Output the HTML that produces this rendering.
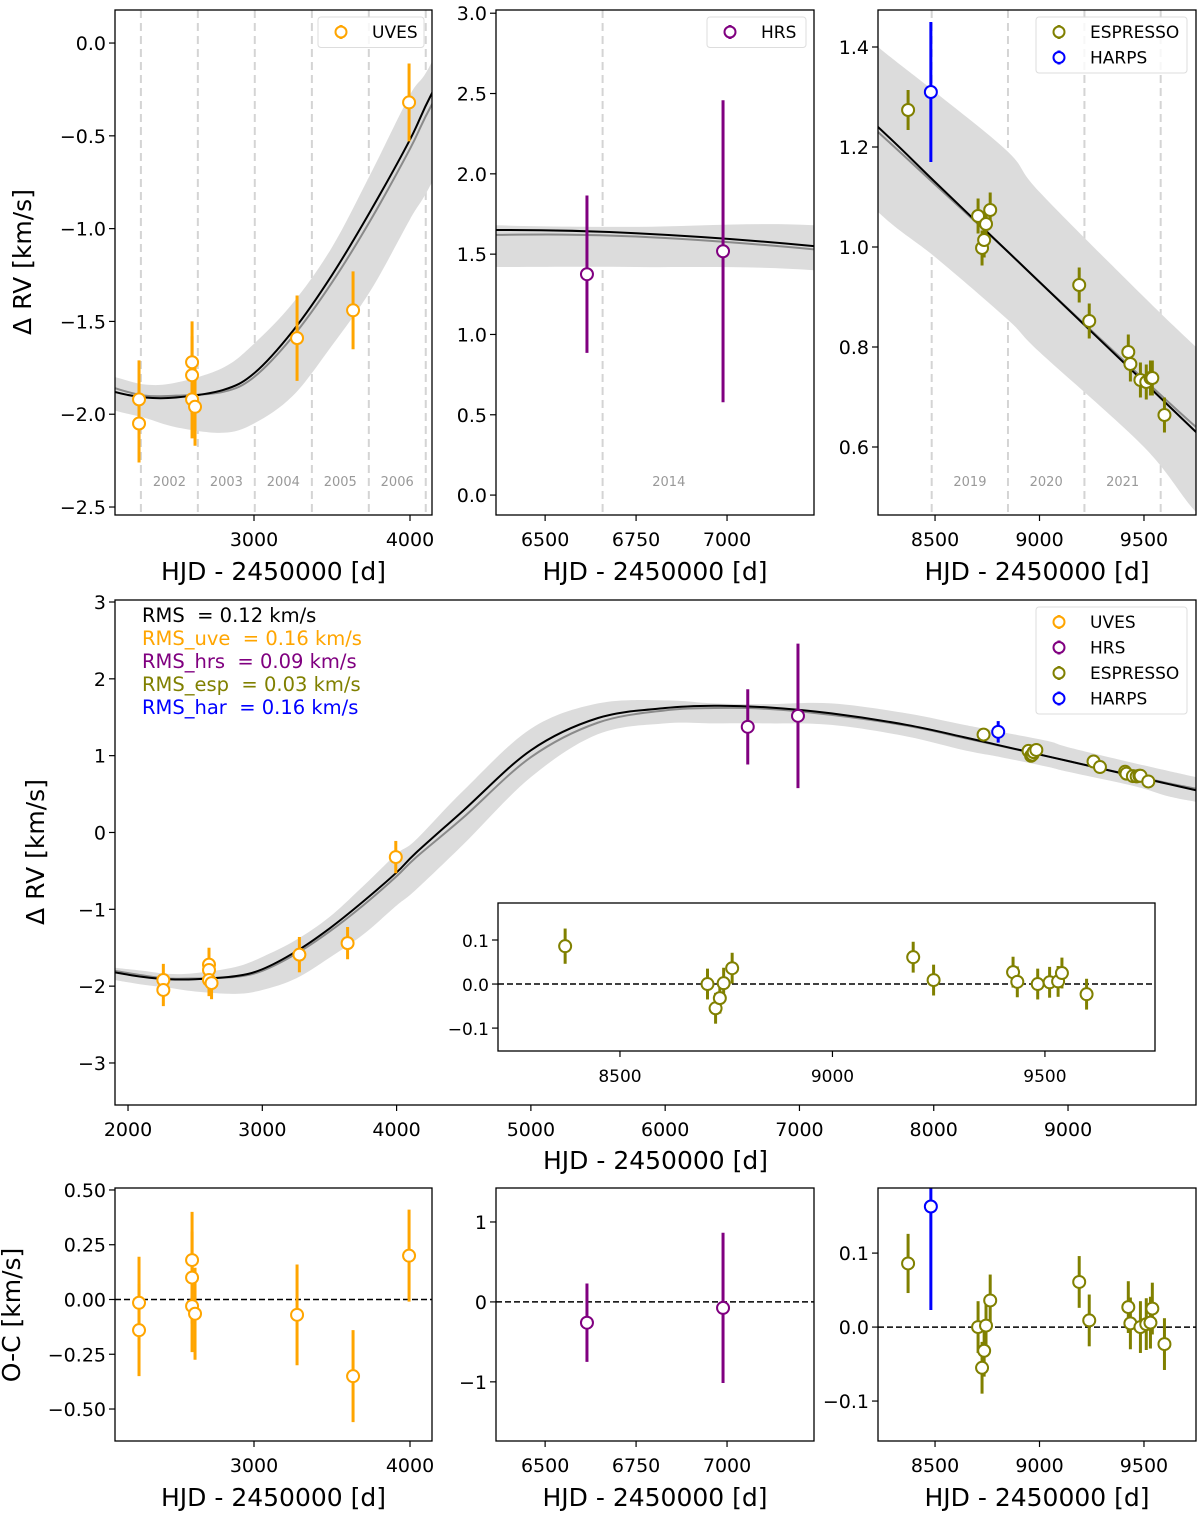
<!DOCTYPE html>
<html><head><meta charset="utf-8"><style>
html,body{margin:0;background:#fff;overflow:hidden;width:1200px;height:1517px}
svg{display:block;font-family:"DejaVu Sans","Liberation Sans",sans-serif}
</style></head><body>
<svg id="fig" width="1200" height="1517" viewBox="0 0 1200 1517" xmlns="http://www.w3.org/2000/svg"></svg>
<script>
// ---- data ----
const uvesT = [2263, 2263, 2603, 2603, 2603, 2622, 3276, 3635, 3994];
const uvesRV = [-1.92, -2.05, -1.72, -1.79, -1.92, -1.96, -1.59, -1.44, -0.32];
const uvesErr = [0.21, 0.21, 0.22, 0.21, 0.21, 0.21, 0.23, 0.21, 0.21];
const uvesOC = [-0.015, -0.14, 0.18, 0.10, -0.03, -0.065, -0.07, -0.35, 0.20];
const hrsT = [6615, 6989];
const hrsRV = [1.375, 1.518];
const hrsErr = [0.49, 0.94];
const hrsOC = [-0.26, -0.075];
const espT = [8371, 8706, 8725, 8735, 8744, 8764, 9190, 9238, 9425, 9435, 9483, 9511, 9531, 9540, 9598];
const espRV = [1.274, 1.062, 0.998, 1.014, 1.046, 1.074, 0.924, 0.852, 0.79, 0.766, 0.734, 0.73, 0.738, 0.738, 0.664];
const espErr = [0.04, 0.035, 0.035, 0.035, 0.035, 0.035, 0.035, 0.035, 0.035, 0.035, 0.035, 0.035, 0.035, 0.035, 0.035];
const espOC = [0.086, 0.0, -0.055, -0.032, 0.002, 0.036, 0.061, 0.009, 0.027, 0.005, 0.0, 0.004, 0.006, 0.025, -0.023];
const harT = [8480];
const harRV = [1.31];
const harErr = [0.14];
const harOC = [0.163];
const modelT = [1900, 2109, 2300, 2500, 2800, 3000, 3250, 3500, 3750, 4000, 4141, 4500, 5000, 5500, 6000, 6365, 6750, 7239, 7800, 8227, 8500, 8850, 9000, 9500, 9749, 9953];
const modelBlack = [-1.82, -1.88, -1.91, -1.91, -1.87, -1.78, -1.55, -1.25, -0.90, -0.52, -0.27, 0.29, 1.07, 1.49, 1.62, 1.65, 1.63, 1.55, 1.40, 1.24, 1.13, 0.99, 0.93, 0.73, 0.63, 0.55];
const modelGray = [-1.80, -1.86, -1.90, -1.90, -1.88, -1.80, -1.58, -1.29, -0.95, -0.57, -0.33, 0.20, 0.98, 1.43, 1.59, 1.62, 1.61, 1.53, 1.39, 1.23, 1.125, 0.99, 0.93, 0.735, 0.64, 0.57];
const bandLow = [-1.92, -1.98, -2.02, -2.07, -2.10, -2.05, -1.90, -1.63, -1.33, -0.95, -0.75, -0.15, 0.72, 1.28, 1.42, 1.42, 1.42, 1.40, 1.25, 1.07, 0.98, 0.854, 0.79, 0.60, 0.47, 0.40];
const bandHigh = [-1.76, -1.80, -1.84, -1.83, -1.75, -1.62, -1.40, -1.10, -0.70, -0.28, -0.10, 0.55, 1.35, 1.68, 1.72, 1.68, 1.67, 1.68, 1.55, 1.40, 1.31, 1.19, 1.11, 0.90, 0.80, 0.72];
const yearEdges = [2275, 2640, 3005, 3371, 3736, 4101, 6658, 8484, 8849, 9215, 9580];
const yearLabels = ['2002','2003','2004','2005','2006','2014','2019','2020','2021'];
const yearLabelT = [2458, 2823, 3188, 3553, 3918, 6840, 8667, 9032, 9398];
const rmsLabels = ['RMS  = 0.12 km/s','RMS_uve  = 0.16 km/s','RMS_hrs  = 0.09 km/s','RMS_esp  = 0.03 km/s','RMS_har  = 0.16 km/s'];

const COL = {uves:'#FFA500', hrs:'#800080', esp:'#808000', har:'#0000FF'};
const NS = 'http://www.w3.org/2000/svg';
const svg = document.getElementById('fig');
let clipId = 0;
function mk(tag, attrs, parent){
  const e = document.createElementNS(NS, tag);
  for (const k in attrs) e.setAttribute(k, attrs[k]);
  (parent || svg).appendChild(e);
  return e;
}
function fmt(v, d){ const s = v.toFixed(d); return s.replace('-', '\u2212'); }
function smooth(pts, start){
  let d = (start ? 'M' : 'L') + pts[0][0] + ' ' + pts[0][1];
  for (let i = 0; i < pts.length - 1; i++){
    const p0 = pts[Math.max(i-1,0)], p1 = pts[i], p2 = pts[i+1], p3 = pts[Math.min(i+2,pts.length-1)];
    const c1x = p1[0] + (p2[0]-p0[0])/6, c1y = p1[1] + (p2[1]-p0[1])/6;
    const c2x = p2[0] - (p3[0]-p1[0])/6, c2y = p2[1] - (p3[1]-p1[1])/6;
    d += 'C' + c1x + ' ' + c1y + ' ' + c2x + ' ' + c2y + ' ' + p2[0] + ' ' + p2[1];
  }
  return d;
}

function panel(o){
  const g = mk('g', {});
  
  
  const sx = v => o.x0 + (v - o.xd[0]) / (o.xd[1] - o.xd[0]) * (o.x1 - o.x0);
  const sy = v => o.y1 - (v - o.yd[0]) / (o.yd[1] - o.yd[0]) * (o.y1 - o.y0);
  const cid = 'c' + (clipId++);
  const cp = mk('clipPath', {id: cid}, g);
  mk('rect', {x:o.x0, y:o.y0, width:o.x1-o.x0, height:o.y1-o.y0}, cp);
  const inner = mk('g', {'clip-path':'url(#'+cid+')'}, g);
  return {g, inner, sx, sy, o};
}
function frame(P, xt, xdec, yt, ydec, fs){
  const o = P.o, g = P.g;
  const r = mk('rect', {x:o.x0, y:o.y0, width:o.x1-o.x0, height:o.y1-o.y0, fill:'none', stroke:'#000', 'stroke-width':1.3}, g);
  
  
  xt.forEach(v => {
    const x = P.sx(v);
    mk('line', {x1:x, x2:x, y1:o.y1, y2:o.y1+6, stroke:'#000', 'stroke-width':1.2}, g);
    const t = mk('text', {x:x, y:o.y1+31, 'text-anchor':'middle', 'font-size':fs||19}, g);
    t.textContent = fmt(v, xdec);
    
    
  });
  yt.forEach(v => {
    const y = P.sy(v);
    mk('line', {x1:o.x0-6, x2:o.x0, y1:y, y2:y, stroke:'#000', 'stroke-width':1.2}, g);
    const t = mk('text', {x:o.x0-9, y:y+7, 'text-anchor':'end', 'font-size':fs||19}, g);
    t.textContent = fmt(v, ydec);
    
    
  });
}
function xlabel(P, y){
  const t = mk('text', {x:(P.o.x0+P.o.x1)/2, y:y, 'text-anchor':'middle', 'font-size':25}, P.g);
  t.textContent = 'HJD - 2450000 [d]';
  
  
}
function ylabel(P, x, y, txt){
  const t = mk('text', {x:x, y:y, 'text-anchor':'middle', 'font-size':25, transform:'rotate(-90 '+x+' '+y+')'}, P.g);
  t.textContent = txt;
  
  
}
function model(P){
  const up = modelT.map((t,i) => [P.sx(t), P.sy(bandHigh[i])]);
  const lo = modelT.map((t,i) => [P.sx(t), P.sy(bandLow[i])]).reverse();
  const b = mk('path', {d:smooth(up,true) + smooth(lo,false) + 'Z', fill:'#dcdcdc', stroke:'none'}, P.inner);
  
  
  [[modelGray, '#8a8a8a', 'model-gray-curve'], [modelBlack, '#000', 'model-best-fit-curve']].forEach(s => {
    const pts = modelT.map((t,i) => [P.sx(t), P.sy(s[0][i])]);
    const l = mk('path', {d:smooth(pts,true), fill:'none', stroke:s[1], 'stroke-width':2, 'stroke-linejoin':'round'}, P.inner);
    
    
  });
}
function years(P, edges, labels, lt){
  edges.forEach(t => {
    const x = P.sx(t);
    const l = mk('line', {x1:x, x2:x, y1:P.o.y0, y2:P.o.y1, stroke:'#d4d4d4', 'stroke-width':2, 'stroke-dasharray':'8 5'}, P.inner);
    
    
  });
  labels.forEach((s,i) => {
    const t = mk('text', {x:P.sx(lt[i]), y:486, 'text-anchor':'middle', 'font-size':13, fill:'#999'}, P.inner);
    t.textContent = s;
    
    
  });
}
function zero(P){
  const y = P.sy(0);
  const l = mk('line', {x1:P.o.x0, x2:P.o.x1, y1:y, y2:y, stroke:'#000', 'stroke-width':1.5, 'stroke-dasharray':'6 3'}, P.inner);
  
  
}
function points(P, T, V, E, color, name, r){
  T.forEach((t,i) => {
    const x = P.sx(t);
    const l = mk('line', {x1:x, x2:x, y1:P.sy(V[i]-E[i]), y2:P.sy(V[i]+E[i]), stroke:color, 'stroke-width':3}, P.inner);
    
    
  });
  T.forEach((t,i) => {
    const c = mk('circle', {cx:P.sx(t), cy:P.sy(V[i]), r:r||6, fill:'#fff', stroke:color, 'stroke-width':2}, P.inner);
    
    
  });
}
function legend(P, x, y, w, entries){
  const h = 25.5*entries.length + 5;
  const r = mk('rect', {x:x, y:y, width:w, height:h, fill:'#fff', 'fill-opacity':0.8, stroke:'#ddd', 'stroke-width':1, rx:3}, P.g);
  
  
  entries.forEach((e,i) => {
    const cy = y + 15 + 25.5*i;
    const mx = x + 23;
    mk('line', {x1:mx, x2:mx, y1:cy-7, y2:cy+7, stroke:e[1], 'stroke-width':3}, P.g);
    const c = mk('circle', {cx:mx, cy:cy, r:5.5, fill:'#fff', stroke:e[1], 'stroke-width':2}, P.g);
    
    
    const t = mk('text', {x:x+54, y:cy+6, 'font-size':17}, P.g);
    t.textContent = e[0];
    
    
  });
}

// ---- top left (UVES) ----
let P = panel({name:'uves-rv-panel', x0:115, x1:432, y0:10, y1:515, xd:[2109,4141], yd:[-2.543,0.178]});
years(P, yearEdges.slice(0,6), yearLabels.slice(0,5), yearLabelT.slice(0,5));
model(P);
points(P, uvesT, uvesRV, uvesErr, COL.uves, 'uves');
frame(P, [3000,4000], 0, [0,-0.5,-1,-1.5,-2,-2.5], 1);
xlabel(P, 580); ylabel(P, 31, 262, 'Δ RV [km/s]');
legend(P, 318, 17, 106, [['UVES', COL.uves]]);

// ---- top middle (HRS) ----
P = panel({name:'hrs-rv-panel', x0:496, x1:814, y0:10, y1:515, xd:[6365,7239], yd:[-0.124,3.02]});
years(P, yearEdges.slice(6,7), yearLabels.slice(5,6), yearLabelT.slice(5,6));
model(P);
points(P, hrsT, hrsRV, hrsErr, COL.hrs, 'hrs');
frame(P, [6500,6750,7000], 0, [0,0.5,1,1.5,2,2.5,3], 1);
xlabel(P, 580);
legend(P, 707, 17, 99, [['HRS', COL.hrs]]);

// ---- top right (ESPRESSO/HARPS) ----
P = panel({name:'espresso-rv-panel', x0:878, x1:1196, y0:10, y1:515, xd:[8227,9749], yd:[0.464,1.474]});
years(P, yearEdges.slice(7,11), yearLabels.slice(6,9), yearLabelT.slice(6,9));
model(P);
points(P, espT, espRV, espErr, COL.esp, 'espresso');
points(P, harT, harRV, harErr, COL.har, 'harps');
frame(P, [8500,9000,9500], 0, [0.6,0.8,1.0,1.2,1.4], 1);
xlabel(P, 580);
legend(P, 1036, 17, 151, [['ESPRESSO', COL.esp], ['HARPS', COL.har]]);

// ---- main panel ----
P = panel({name:'combined-rv-panel', x0:115, x1:1196, y0:600, y1:1105, xd:[1903,9953], yd:[-3.547,3.026]});
model(P);
points(P, uvesT, uvesRV, uvesErr, COL.uves, 'uves');
points(P, hrsT, hrsRV, hrsErr, COL.hrs, 'hrs');
points(P, espT, espRV, espErr, COL.esp, 'espresso');
points(P, harT, harRV, harErr, COL.har, 'harps');
frame(P, [2000,3000,4000,5000,6000,7000,8000,9000], 0, [-3,-2,-1,0,1,2,3], 0);
xlabel(P, 1169); ylabel(P, 44, 852, 'Δ RV [km/s]');
legend(P, 1036, 607, 151, [['UVES', COL.uves], ['HRS', COL.hrs], ['ESPRESSO', COL.esp], ['HARPS', COL.har]]);
const rmsCols = ['#000', COL.uves, COL.hrs, COL.esp, COL.har];
rmsLabels.forEach((s,i) => {
  const t = mk('text', {x:142, y:622 + 23*i, 'font-size':19.5, fill:rmsCols[i], style:'white-space:pre'}, P.g);
  t.textContent = s;
  
  
});

// ---- inset ----
P = panel({name:'espresso-residual-inset', x0:498, x1:1155, y0:903, y1:1051, xd:[8213,9759], yd:[-0.152,0.184]});
mk('rect', {x:498, y:903, width:657, height:148, fill:'#fff'}, P.inner);
zero(P);
points(P, espT, espOC, espErr, COL.esp, 'espresso-residual');
frame(P, [8500,9000,9500], 0, [-0.1,0,0.1], 1, 17);

// ---- bottom panels ----
P = panel({name:'uves-residual-panel', x0:115, x1:432, y0:1188, y1:1441, xd:[2109,4141], yd:[-0.646,0.509]});
zero(P);
points(P, uvesT, uvesOC, uvesErr, COL.uves, 'uves-residual');
frame(P, [3000,4000], 0, [0.5,0.25,0,-0.25,-0.5], 2);
xlabel(P, 1506); ylabel(P, 20, 1315, 'O-C [km/s]');

P = panel({name:'hrs-residual-panel', x0:496, x1:814, y0:1188, y1:1441, xd:[6365,7239], yd:[-1.74,1.425]});
zero(P);
points(P, hrsT, hrsOC, hrsErr, COL.hrs, 'hrs-residual');
frame(P, [6500,6750,7000], 0, [1,0,-1], 0);
xlabel(P, 1506);

P = panel({name:'espresso-residual-panel', x0:878, x1:1196, y0:1188, y1:1441, xd:[8227,9749], yd:[-0.154,0.188]});
zero(P);
points(P, espT, espOC, espErr, COL.esp, 'espresso-residual');
points(P, harT, harOC, harErr, COL.har, 'harps-residual');
frame(P, [8500,9000,9500], 0, [0.1,0,-0.1], 1);
xlabel(P, 1506);
</script>
</body></html>
